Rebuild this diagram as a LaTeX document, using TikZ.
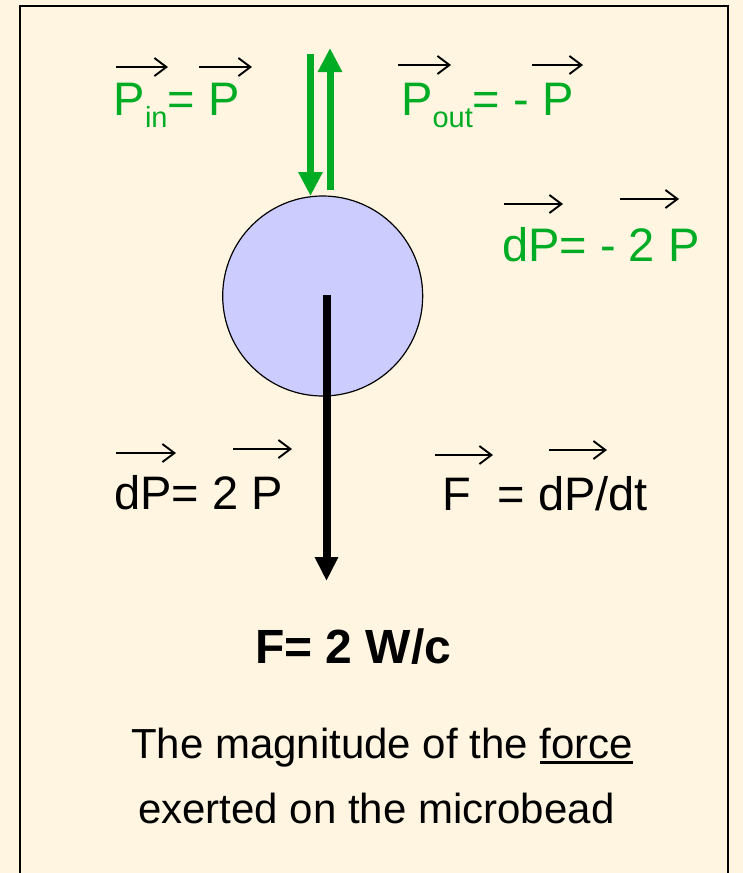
\documentclass[tikz,border=0pt]{standalone}
\usepackage{fontspec}
\setmainfont{Liberation Sans}
\usetikzlibrary{arrows.meta}
\definecolor{bg}{RGB}{255,245,225}
\definecolor{grn}{RGB}{0,172,36}
\definecolor{beadfill}{RGB}{204,204,255}
\newcommand{\subtxt}[1]{\raisebox{-12pt}{\fontsize{29}{29}\selectfont #1}}
\newcommand{\thickul}[1]{\vtop{\hbox{#1}\kern3pt\hrule height 2.8pt}}
\tikzset{
 lbl/.style={anchor=base west, inner sep=0pt, font=\fontsize{47}{47}\selectfont},
 vecarrow/.style={line width=1.9pt, -{Straight Barb[length=12pt,width=18pt]}},
 beamarrow/.style={draw=grn, line width=7pt, -{Triangle[length=24pt,width=23pt]}},
 forcearrow/.style={draw=black, line width=8pt, -{Triangle[length=24pt,width=22pt]}},
}
\begin{document}
\begin{tikzpicture}[x=1pt,y=-1pt]
\useasboundingbox (0,0) rectangle (743,873);
\fill[bg] (0,0) rectangle (743,873);
\draw[line width=1.8pt] (20,873) -- (20,6) -- (728,6) -- (728,873);

\node[circle, draw, line width=1.2pt, fill=beadfill, minimum size=200pt, inner sep=0pt] (bead) at (322.7,296) {};

% incoming / outgoing beams
\coordinate (inS) at (310.5,54);
\coordinate (inE) at (310.5,196);
\coordinate (outS) at (330,190);
\coordinate (outE) at (330,48);
\draw[beamarrow] (inS) -- (inE);
\draw[beamarrow] (outS) -- (outE);

% force arrow
\coordinate (fS) at (326.5,295);
\coordinate (fE) at (326.5,581);
\draw[forcearrow] (fS) -- (fE);

% green labels
\node[lbl, text=grn] (pin) at (113.5,115) {P\subtxt{in}= P};
\node[lbl, text=grn] (pout) at (401,115) {P\subtxt{out}= - P};
\node[lbl, text=grn] (dpg) at (502,261) {dP= - 2 P};

% black labels
\node[lbl] (dpb) at (114,509) {dP= 2 P};
\node[lbl] (fdt) at (442.5,510) {F\ \ = dP/dt};
\node[anchor=base west, inner sep=0pt, font=\fontsize{48}{48}\selectfont\bfseries] (fbold) at (255,663) {F= 2 W/c};
\node[anchor=base west, inner sep=0pt, font=\fontsize{42}{42}\selectfont] (line1) at (131,758) {The magnitude of the \thickul{force}};
\node[anchor=base west, inner sep=0pt, font=\fontsize{42}{42}\selectfont] (line2) at (138,823) {exerted on the microbead};

% vector arrows over symbols
\draw[vecarrow] (116,67) -- (168,67);
\draw[vecarrow] (199,67) -- (252,67);
\draw[vecarrow] (398,65) -- (451,65);
\draw[vecarrow] (532,65) -- (583,65);
\draw[vecarrow] (504,204) -- (563,204);
\draw[vecarrow] (620,199) -- (679,199);
\draw[vecarrow] (116,453) -- (176,453);
\draw[vecarrow] (233,449) -- (292,449);
\draw[vecarrow] (435,455) -- (493,455);
\draw[vecarrow] (549,450) -- (607,450);
\end{tikzpicture}
\end{document}
